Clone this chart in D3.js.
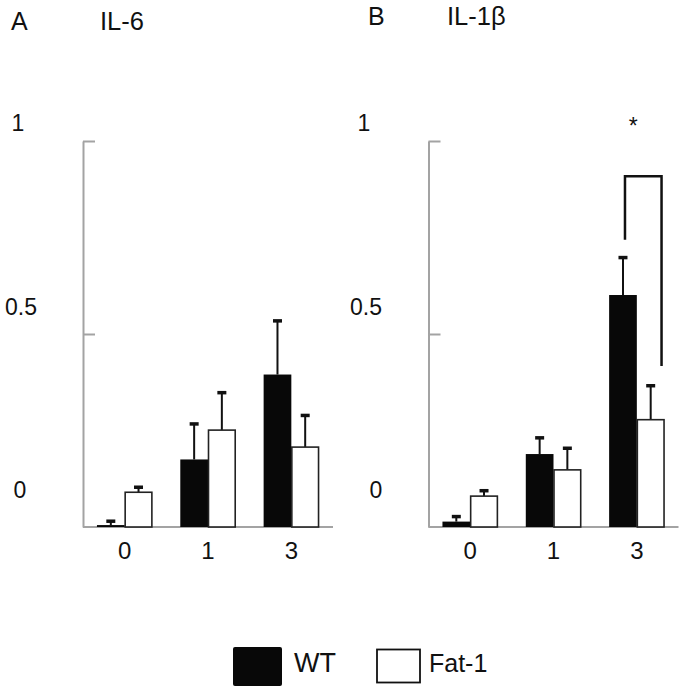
<!DOCTYPE html>
<html><head><meta charset="utf-8">
<script src="https://cdn.jsdelivr.net/npm/d3@7"></script>
<style>body{margin:0;background:#fff}svg{display:block;font-family:"Liberation Sans",Arial,sans-serif}</style>
</head><body>
<svg id="c" width="685" height="692"></svg>
<script>
const categories = ["0", "1", "3"];
const series = ["WT", "Fat-1"];
const il6WT = [0.005, 0.175, 0.395];
const il6WTErr = [0.010, 0.092, 0.139];
const il6Fat = [0.090, 0.251, 0.207];
const il6FatErr = [0.013, 0.097, 0.082];
const il1WT = [0.014, 0.189, 0.601];
const il1WTErr = [0.013, 0.042, 0.097];
const il1Fat = [0.080, 0.148, 0.278];
const il1FatErr = [0.014, 0.056, 0.088];
const yTicks = [0, 0.5, 1];
const yTickLabels = ["0", "0.5", "1"];
// significance bracket for IL-1β, day 3: [top, left bottom, right bottom]
const sigBracket = [0.909, 0.744, 0.417];

const svg = d3.select("#c");
const y = d3.scaleLinear().domain([0, 1]).range([527, 141]);
const yLab = d3.scaleLinear().domain([0, 1]).range([498, 131]);

function panel(opts) {
  const g = svg.append("g");
  const x0 = d3.scaleBand().domain(categories).range([opts.x0, opts.x0 + 250])
    .paddingInner(0.335).paddingOuter(0.1675);
  const x1 = d3.scaleBand().domain(series).range([0, x0.bandwidth()]);
  const data = categories.map((c, i) => ({c, vals: [
    {s: "WT", v: opts.wt[i], e: opts.wtErr[i]},
    {s: "Fat-1", v: opts.fat[i], e: opts.fatErr[i]}]}));

  // axis
  const ax = g.append("g").attr("transform", `translate(${opts.x0},0)`)
    .call(d3.axisRight(y).tickValues([0.5, 1]).tickSize(12).tickSizeOuter(0).tickFormat(""));
  ax.select(".domain").attr("stroke", "#a3a3a3").attr("stroke-width", 2);
  ax.selectAll(".tick line").attr("stroke", "#a3a3a3").attr("stroke-width", 2);
  g.append("line").attr("x1", opts.x0).attr("x2", opts.x0 + 250)
    .attr("y1", y(0)).attr("y2", y(0)).attr("stroke", "#a3a3a3").attr("stroke-width", 2);

  // y labels
  g.selectAll(".yl").data(yTicks).join("text")
    .attr("x", (d, i) => opts.labX[i]).attr("y", d => yLab(d))
    .attr("text-anchor", "middle").attr("font-size", 23).attr("fill", "#111")
    .text((d, i) => yTickLabels[i]);

  // x labels
  g.selectAll(".xl").data(categories).join("text")
    .attr("x", d => x0(d) + x0.bandwidth() / 2).attr("y", 559)
    .attr("text-anchor", "middle").attr("font-size", 24).attr("fill", "#111")
    .text(d => d);

  const grp = g.selectAll(".grp").data(data).join("g")
    .attr("transform", d => `translate(${x0(d.c)},0)`);
  // error bars
  grp.selectAll(".eb").data(d => d.vals).join("line")
    .attr("x1", d => x1(d.s) + x1.bandwidth() / 2).attr("x2", d => x1(d.s) + x1.bandwidth() / 2)
    .attr("y1", d => y(d.v)).attr("y2", d => y(d.v + d.e))
    .attr("stroke", "#111").attr("stroke-width", 2);
  grp.selectAll(".cap").data(d => d.vals).join("line")
    .attr("x1", d => x1(d.s) + x1.bandwidth() / 2 - 4.5).attr("x2", d => x1(d.s) + x1.bandwidth() / 2 + 4.5)
    .attr("y1", d => y(d.v + d.e)).attr("y2", d => y(d.v + d.e))
    .attr("stroke", "#111").attr("stroke-width", 3.5);
  // bars
  grp.selectAll(".bar").data(d => d.vals).join("rect")
    .attr("x", d => x1(d.s) + (d.s === "WT" ? 0 : 0.5)).attr("width", d => x1.bandwidth() - (d.s === "WT" ? 0 : 1))
    .attr("y", d => y(d.v)).attr("height", d => y(0) - y(d.v))
    .attr("fill", d => d.s === "WT" ? "#080808" : "#fff")
    .attr("stroke", d => d.s === "WT" ? "none" : "#222").attr("stroke-width", 1.6);

  // titles
  svg.append("text").attr("x", opts.letterX).attr("y", opts.titleY).attr("font-size", 25)
    .attr("fill", "#111").text(opts.letter);
  svg.append("text").attr("x", opts.titleX).attr("y", opts.titleY).attr("font-size", 25.5)
    .attr("fill", "#111").text(opts.title);
  return {x0, x1};
}

panel({x0: 83, wt: il6WT, wtErr: il6WTErr, fat: il6Fat, fatErr: il6FatErr,
  labX: [20, 21, 18], letter: "A", letterX: 11, title: "IL-6", titleX: 100, titleY: 30});
const pB = panel({x0: 428.5, wt: il1WT, wtErr: il1WTErr, fat: il1Fat, fatErr: il1FatErr,
  labX: [376, 366, 364], letter: "B", letterX: 368, title: "IL-1β", titleX: 447, titleY: 25});

// significance bracket
const bx0 = pB.x0("3");
const lx = bx0 + pB.x1("WT") + pB.x1.bandwidth() / 2 + 2;
const rx = bx0 + pB.x1("Fat-1") + pB.x1.bandwidth() - 3;
svg.append("path")
  .attr("d", `M${lx},${y(sigBracket[1])}V${y(sigBracket[0])}H${rx}V${y(sigBracket[2])}`)
  .attr("fill", "none").attr("stroke", "#111").attr("stroke-width", 2.5);
svg.append("text").attr("x", (lx + rx) / 2 - 10).attr("y", 134).attr("text-anchor", "middle")
  .attr("font-size", 23).attr("fill", "#111").text("*");

// legend
const leg = svg.append("g");
leg.append("rect").attr("x", 233).attr("y", 647).attr("width", 49).attr("height", 39)
  .attr("rx", 2).attr("fill", "#080808");
leg.append("text").attr("x", 294).attr("y", 672).attr("font-size", 27).attr("fill", "#111").text(series[0]);
leg.append("rect").attr("x", 377).attr("y", 649.5).attr("width", 43).attr("height", 33)
  .attr("fill", "#fff").attr("stroke", "#111").attr("stroke-width", 1.8);
leg.append("text").attr("x", 429).attr("y", 672).attr("font-size", 25).attr("fill", "#111").text(series[1]);
</script>
</body></html>
